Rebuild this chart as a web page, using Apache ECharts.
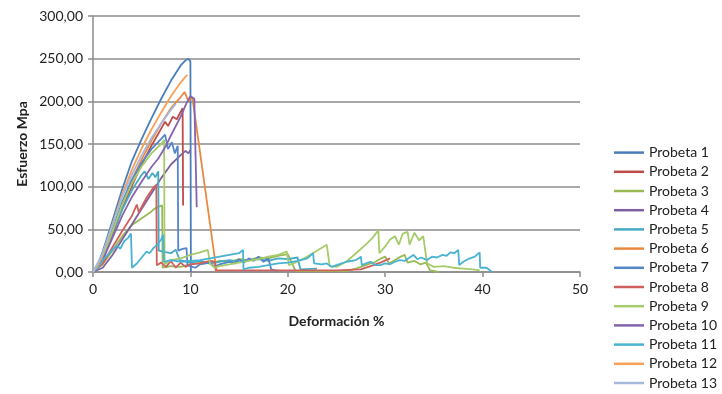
<!DOCTYPE html>
<html><head><meta charset="utf-8">
<script src="https://cdn.jsdelivr.net/npm/echarts@6/dist/echarts.min.js"></script>
<style>html,body{margin:0;padding:0;background:#fff}#c{width:722px;height:394px}</style>
</head><body><div id="c"></div>
<script>
const names = ['Probeta 1','Probeta 2','Probeta 3','Probeta 4','Probeta 5','Probeta 6','Probeta 7','Probeta 8','Probeta 9','Probeta 10','Probeta 11','Probeta 12','Probeta 13'];
const colors = ['#4A7EBB','#BE4B48','#98B954','#7D60A0','#46AAC5','#E88A3E','#5585C9','#D0605D','#A6CB6A','#8464B0','#48B3D2','#F9A058','#A5B9DD'];
const xTicks = [0,10,20,30,40,50];
const yTicks = [0,50,100,150,200,250,300];

const p1 = [[0,0],[0.5,9],[1,24],[2,60],[3,97],[4,130],[5,156],[6,180],[7,203],[8,224],[9,242],[9.5,248],[9.75,250],[10,247],[10.05,0]];
const p2 = [[0,0],[1,14],[2,44],[3,74],[4,101],[5,126],[6,148],[7,168],[7.4,176],[7.7,171],[8.2,182],[8.6,179],[9.2,192],[9.25,78]];
const p3 = [[0,0],[1,9],[2,25],[3,42],[4,55],[5,63],[5.9,70],[6.3,74],[6.5,72],[6.8,77],[7.1,78],[7.15,5],[8,7],[9,6],[10,9],[11,11],[12,10],[13,13],[14,12],[15,15],[16,14],[17,17],[18,16],[19,19],[20,21],[20.8,1],[26,1],[27,4],[28,8],[29,12],[29.6,16],[30,18],[30.4,10],[31,14],[31.6,18],[32,20],[32.3,11],[33,13],[33.6,9],[34.2,11],[34.6,2],[35.5,0]];
const p4 = [[0,0],[1,5],[2,20],[3,38],[4,56],[5,74],[6,92],[7,110],[8,126],[9,137],[9.5,142],[9.8,139],[10,143]];
const p5 = [[0,0],[1,17],[2,46],[3,73],[4,96],[5,114],[5.3,118],[5.7,109],[6.1,116],[6.4,111],[6.7,118],[6.75,25],[7.2,24],[8,22],[8.5,26],[8.9,14],[10,11],[11,13],[12,10],[13,12],[14,14],[15,12],[16,14],[17,15],[18,13],[19,16],[20,15],[21,17],[21.3,3],[23,4]];
const p6 = [[0,0],[1,17],[2,48],[3,80],[4,108],[5,132],[6,154],[7,174],[8,192],[9,205],[9.4,211],[9.8,200],[10.2,205],[10.4,203],[12.7,0]];
const p7 = [[0,0],[1,19],[2,50],[3,82],[4,108],[5,128],[6,144],[7,156],[7.4,161],[7.7,144],[8.1,152],[8.4,139],[8.7,148],[8.75,25],[9.2,27],[9.6,28],[9.7,8],[10.5,5],[11,9],[12,11],[12.5,6],[13,9],[14,12],[14.5,10],[15,15],[15.5,11],[16,16],[16.5,13],[17,18],[17.5,12],[18,16],[18.3,3],[19,1]];
const p8 = [[0,0],[1,10],[2,29],[3,48],[4,66],[4.5,79],[4.7,70],[5.5,87],[6.2,99],[6.5,102],[6.55,8],[7,11],[7.5,6],[8,13],[8.5,5],[9,11],[9.5,6],[10,9],[11,10],[12,13],[12.5,12],[12.6,2],[15,2],[20,2],[25,2],[27.5,3],[28.5,7],[29.5,11],[30.5,16]];
const p9 = [[0,0],[1,18],[2,48],[3,79],[4,104],[5,124],[6,139],[7,150],[7.3,155],[7.35,9],[8,14],[9,16],[10,20],[11,23],[11.8,26],[12,10],[12.5,5],[13,7],[14,9],[15,11],[16,13],[17,15],[18,18],[19,20],[19.9,24],[20.1,8],[21,12],[22,18],[23,25],[24,32],[24.3,7],[25,6],[26,12],[27,22],[28,32],[28.7,40],[29.3,49],[29.4,22],[30,30],[30.5,38],[31,42],[31.4,32],[31.8,45],[32.3,47],[32.5,32],[33,46],[33.5,37],[33.9,42],[34.3,10],[35,6],[36,7],[37,5],[38,4],[39,3],[39.7,2]];
const p10 = [[0,0],[1,14],[2,40],[3,66],[4,88],[5,106],[6,123],[6.7,133],[7.5,148],[8,160],[9,182],[9.6,198],[10,206],[10.4,203],[10.6,204],[10.65,76]];
const p11 = [[0,0],[0.5,5],[1,14],[1.5,20],[2,26],[2.5,31],[2.8,27],[3.2,36],[3.6,40],[3.9,45],[4,5],[4.5,10],[5,17],[5.5,24],[5.8,22],[6.2,28],[6.6,32],[7,38],[7.2,44],[7.3,12],[8,14],[9,12],[10,13],[11,14],[12,16],[13,18],[14,20],[15,22],[15.4,26],[15.45,3],[16,5],[17,6],[18,8],[19,10],[20,11],[21,13],[22,16],[22.6,22],[22.7,10],[23.5,9],[24,10],[24.5,6],[25,8],[26,12],[27,14],[27.5,18],[27.6,8],[28,10],[28.5,12],[29,8],[29.5,8],[30,10],[30.5,9],[31,12],[31.5,14],[32,13],[32.5,17],[32.9,20],[33.3,15],[33.7,17],[34.3,14],[34.8,18],[35.3,17],[35.9,20],[36.3,19],[36.7,23],[37.1,22],[37.5,26],[37.6,8],[38,12],[38.5,15],[39.2,18],[39.7,23],[39.75,5],[40.4,5],[41,0]];
const p12 = [[0,0],[0.5,8],[1,21],[2,56],[3,91],[4,120],[5,145],[6,167],[7,187],[8,206],[9,222],[9.5,229],[9.7,231]];
const p13 = [[0,0],[1,22],[2,55],[3,88],[4,114],[5,137],[6,157],[7,174],[8,190],[8.5,197]];
const allData = [p1,p2,p3,p4,p5,p6,p7,p8,p9,p10,p11,p12,p13];

const chart = echarts.init(document.getElementById('c'), null, {renderer:'canvas'});
const font = 'Lato, "Open Sans", sans-serif';
chart.setOption({
  animation: false,
  grid: {left: 93, right: 142, top: 16, bottom: 122},
  legend: {
    type: 'plain', orient: 'vertical', left: 614, top: 143, itemGap: 0, padding: 0,
    itemWidth: 30, itemHeight: 2.5, icon: 'rect',
    textStyle: {fontFamily: font, fontSize: 14, color: '#222', lineHeight: 19.2},
    data: names
  },
  xAxis: {
    type: 'value', min: xTicks[0], max: xTicks[xTicks.length-1], interval: 10,
    name: 'Deformación %', nameLocation: 'middle', nameGap: 42, nameMoveOverlap: false,
    nameTextStyle: {fontFamily: font, fontSize: 14, fontWeight: 'bold', color: '#222'},
    axisLine: {show: true, onZero: false, lineStyle: {color: '#8c8c8c', width: 1.5}},
    axisTick: {show: true, length: 5, lineStyle: {color: '#8c8c8c', width: 1.5}},
    axisLabel: {fontFamily: font, fontSize: 14, color: '#222', margin: 10},
    splitLine: {show: false}
  },
  yAxis: {
    type: 'value', min: yTicks[0], max: yTicks[yTicks.length-1], interval: 50,
    name: 'Esfuerzo Mpa', nameLocation: 'middle', nameGap: 64, nameMoveOverlap: false,
    nameTextStyle: {fontFamily: font, fontSize: 14, fontWeight: 'bold', color: '#222'},
    axisLine: {show: true, lineStyle: {color: '#8c8c8c', width: 1.5}},
    axisTick: {show: true, length: 5, lineStyle: {color: '#8c8c8c', width: 1.5}},
    axisLabel: {fontFamily: font, fontSize: 14, color: '#222', margin: 10,
      formatter: v => v.toFixed(2).replace('.', ',')},
    splitLine: {show: true, lineStyle: {color: '#8c8c8c', width: 1.5}}
  },
  series: allData.map((d, i) => ({
    name: names[i], type: 'line', data: d, showSymbol: false, symbol: 'none',
    color: colors[i], lineStyle: {width: 1.8, color: colors[i]}, itemStyle: {color: colors[i]}
  }))
});
</script></body></html>
